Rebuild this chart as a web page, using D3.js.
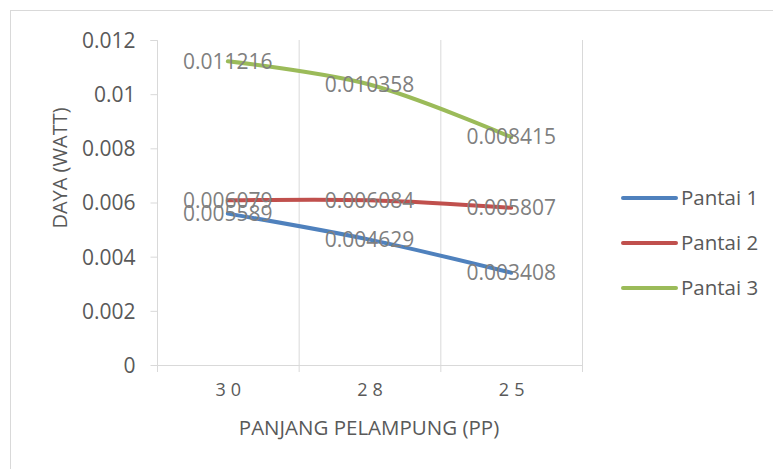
<!DOCTYPE html>
<html>
<head>
<meta charset="utf-8">
<script src="https://cdn.jsdelivr.net/npm/d3@7"></script>
<style>
  body { margin: 0; background: #fff; }
  text { font-family: "Open Sans", "Liberation Sans", sans-serif; }
</style>
</head>
<body>
<div id="chart"></div>
<script>
const categories = ['30', '28', '25']
const pantai1 = [0.005589, 0.004629, 0.003408]
const pantai2 = [0.006079, 0.006084, 0.005807]
const pantai3 = [0.011216, 0.010358, 0.008415]
const yTicks = [0, 0.002, 0.004, 0.006, 0.008, 0.01, 0.012]

const series = [
  { name: 'Pantai 1', values: pantai1, color: '#4f81bd' },
  { name: 'Pantai 2', values: pantai2, color: '#c0504d' },
  { name: 'Pantai 3', values: pantai3, color: '#9bbb59' }
]

const width = 773
const height = 469

const svg = d3.create('svg')
    .attr('width', width)
    .attr('height', height)

// chart border (only top/left visible in the crop)
svg.append('rect')
    .attr('x', 10.5).attr('y', 10.5)
    .attr('width', 800).attr('height', 500)
    .attr('fill', 'none')
    .attr('stroke', '#d9d9d9')

const x = d3.scaleBand()
    .domain(categories)
    .range([157, 582])

const y = d3.scaleLinear()
    .domain([0, 0.012])
    .range([365, 40])

/* vertical gridlines at category boundaries */
const bounds = categories.map(c => x(c)).concat([x.range()[1]])
svg.append('g').selectAll('line')
    .data(bounds.slice(1))
    .enter().append('line')
    .attr('x1', d => d + 0.5).attr('x2', d => d + 0.5)
    .attr('y1', y(0.012)).attr('y2', y(0))
    .attr('stroke', '#d9d9d9')

/* y axis */
const yAxis = svg.append('g')
    .attr('transform', `translate(${x.range()[0] + 0.5},0)`)
    .call(d3.axisLeft(y).tickValues(yTicks).tickSize(7).tickPadding(15).tickFormat(d => d3.format('')(+d.toFixed(3))))
yAxis.select('.domain').attr('stroke', '#d9d9d9').attr('d', `M-7,${y(0.012) + 0.5}H0V${y(0) + 0.5}`)
yAxis.selectAll('.tick line').attr('stroke', '#d9d9d9')
yAxis.selectAll('.tick text').attr('fill', '#595959').style('font-size', '21px').attr('dy', '0.35em')

/* x axis */
const xAxis = svg.append('g')
    .attr('transform', `translate(0,${y(0) + 0.5})`)
    .call(d3.axisBottom(x).tickSize(0).tickPadding(18))
xAxis.select('.domain').attr('stroke', '#d9d9d9').attr('d', `M${x.range()[0]},0H${x.range()[1]}`)
xAxis.selectAll('.tick text')
    .attr('fill', '#595959')
    .attr('dx', '3px')
    .style('font-size', '18px')
    .style('letter-spacing', '5px')
svg.append('g').selectAll('line')
    .data(bounds)
    .enter().append('line')
    .attr('x1', d => d + 0.5).attr('x2', d => d + 0.5)
    .attr('y1', y(0)).attr('y2', y(0) + 7)
    .attr('stroke', '#d9d9d9')

/* axis titles */
svg.append('text')
    .attr('x', 369).attr('y', 435)
    .attr('text-anchor', 'middle')
    .attr('fill', '#595959')
    .style('font-size', '20.5px')
    .text('PANJANG PELAMPUNG (PP)')

svg.append('text')
    .attr('transform', 'translate(60,168) rotate(-90)')
    .attr('text-anchor', 'middle')
    .attr('dy', '0.35em')
    .attr('fill', '#595959')
    .style('font-size', '20px')
    .text('DAYA (WATT)')

/* lines */
const line = d3.line()
    .x((d, i) => x(categories[i]) + x.bandwidth() / 2)
    .y(d => y(d))
    .curve(d3.curveCatmullRom.alpha(0.5))

svg.append('g').selectAll('path')
    .data(series)
    .enter().append('path')
    .attr('d', d => line(d.values))
    .attr('fill', 'none')
    .attr('stroke', d => d.color)
    .attr('stroke-width', 4)
    .attr('stroke-linecap', 'round')

/* data labels */
series.forEach(s => {
  svg.append('g').selectAll('text')
      .data(s.values)
      .enter().append('text')
      .attr('x', (d, i) => x(categories[i]) + x.bandwidth() / 2)
      .attr('y', d => y(d))
      .attr('dy', '0.35em')
      .attr('text-anchor', 'middle')
      .attr('fill', '#7f7f7f')
      .style('font-size', '21px')
      .text(d => d)
})

/* legend */
const legend = svg.append('g').selectAll('g')
    .data(series)
    .enter().append('g')
    .attr('transform', (d, i) => `translate(623,${198 + i * 45})`)
legend.append('line')
    .attr('x1', 0).attr('x2', 53)
    .attr('stroke', d => d.color)
    .attr('stroke-width', 4)
    .attr('stroke-linecap', 'round')
legend.append('text')
    .attr('x', 58)
    .attr('dy', '0.35em')
    .attr('fill', '#595959')
    .style('font-size', '20.5px')
    .text(d => d.name)

document.getElementById('chart').appendChild(svg.node())
</script>
</body>
</html>
